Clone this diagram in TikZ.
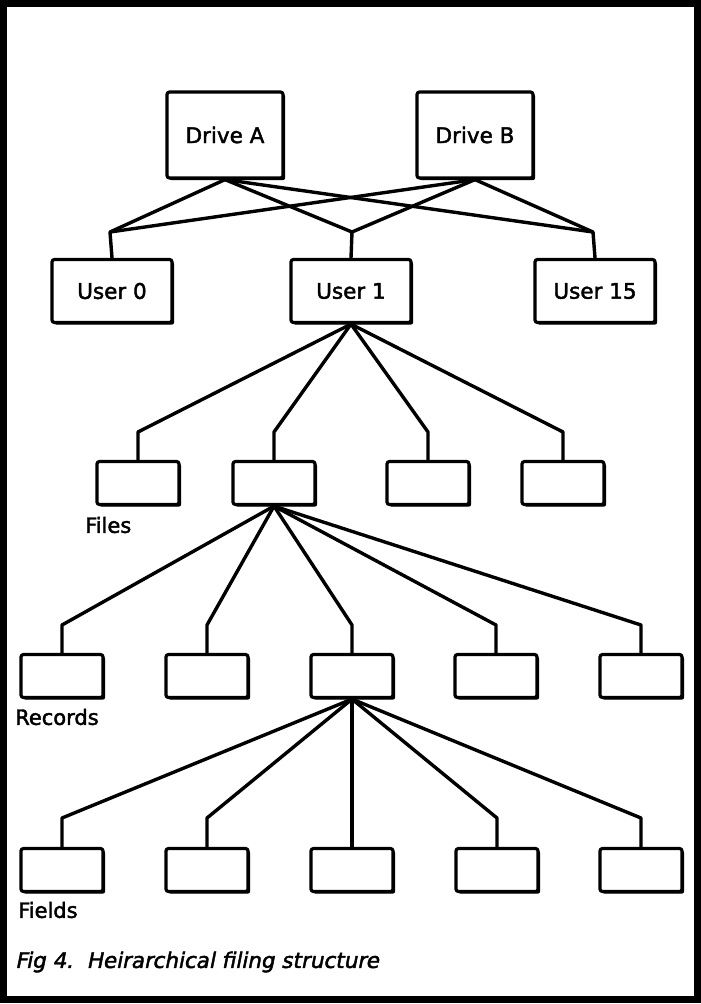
\documentclass[tikz,border=0pt]{standalone}
\usepackage{fontspec}
\setmainfont{DejaVu Sans}
\newfontfamily\boxfont{DejaVu Sans}[FakeBold=2]
\newfontfamily\capfont{DejaVu Sans}[FakeBold=2, FakeSlant=0.2]
\usetikzlibrary{shadows}

\tikzset{
  box/.style={draw, line width=3.2pt, rounded corners=2.5pt, fill=white, inner sep=0pt,
    drop shadow={shadow xshift=2.2pt, shadow yshift=-2.2pt, fill=black, opacity=1},
    font=\fontsize{21.5}{25}\boxfont},
  drivebox/.style={box, minimum width=116pt, minimum height=86pt},
  userbox/.style={box, minimum width=120pt, minimum height=63pt},
  smallbox/.style={box, minimum width=82pt, minimum height=43pt},
  link/.style={line width=3.4pt, line join=round},
  tag/.style={anchor=west, inner sep=0pt, font=\fontsize{21}{24}\boxfont},
}

\begin{document}
\begin{tikzpicture}[x=1pt, y=-1pt]
    \useasboundingbox (0,0) rectangle (701,1004);
    \draw[line width=7pt] (3.5,3.5) rectangle (697,999.5);

    % drives and users
    \node[drivebox] (driveA) at (225,135) {Drive A};
    \node[drivebox] (driveB) at (475,135) {Drive B};
    \node[userbox] (user0) at (112,291) {User 0};
    \node[userbox] (user1) at (351,291) {User 1};
    \node[userbox] (user15) at (595,291) {User 15};

    \foreach \u/\x in {user0/110, user1/352, user15/593} {
        \coordinate (uj\u) at (\x,232);
        \draw[link] (driveA.south) -- (uj\u) -- (\u.north);
        \draw[link] (driveB.south) -- (uj\u);
    }

    % files
    \foreach \x [count=\i] in {138,274,428,563} {
        \node[smallbox] (file\i) at (\x,483) {};
        \coordinate (fj\i) at (\x,432);
        \draw[link] (user1.south) -- (fj\i) -- (file\i.north);
    }
    \node[tag] (files) at (85,525) {Files};

    % records
    \foreach \x [count=\i] in {62,207,352,496,641} {
        \node[smallbox] (rec\i) at (\x,676) {};
        \coordinate (rj\i) at (\x,625);
        \draw[link] (file2.south) -- (rj\i) -- (rec\i.north);
    }
    \node[tag] (records) at (15,717) {Records};

    % fields
    \foreach \x [count=\i] in {62,207,352,497,641} {
        \node[smallbox] (field\i) at (\x,870) {};
        \coordinate (dj\i) at (\x,818);
        \draw[link] (rec3.south) -- (dj\i) -- (field\i.north);
    }
    \node[tag] (fields) at (18,910) {Fields};

    \node[tag, font=\fontsize{21.5}{25}\capfont] (caption) at (15,962)
        {Fig 4.\ \ Heirarchical filing structure};
\end{tikzpicture}
\end{document}
